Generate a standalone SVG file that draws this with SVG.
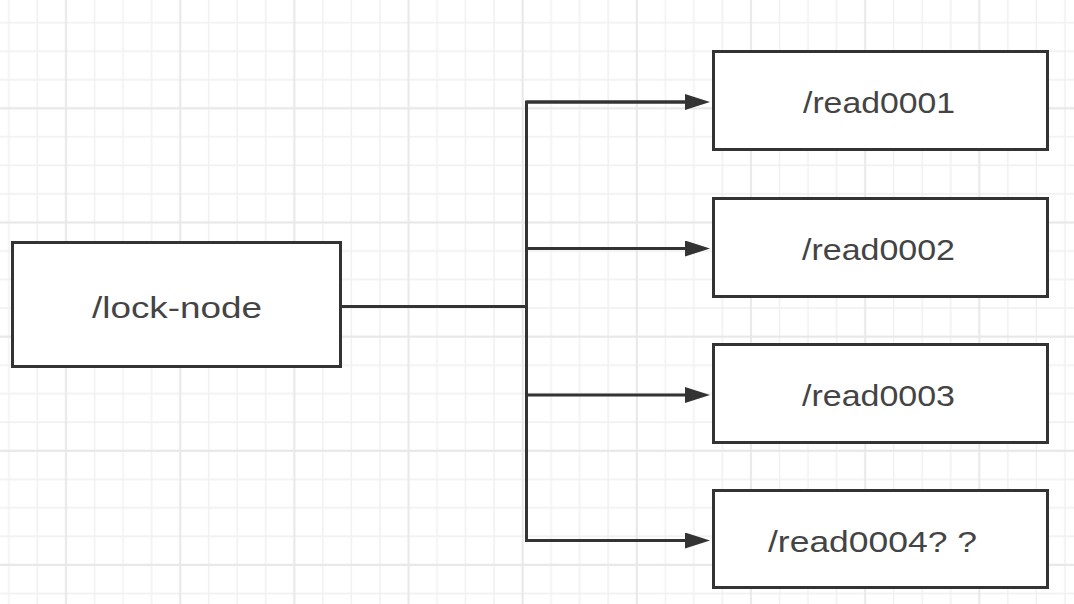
<svg xmlns="http://www.w3.org/2000/svg" width="1074" height="604" viewBox="0 0 1074 604">
  <style>
    .box { fill: #ffffff; stroke: #333333; stroke-width: 3; }
    .lbl { font-family: "Liberation Sans", Arial, Helvetica, sans-serif; font-size: 30px; fill: #444444; }
    .conn { fill: none; stroke: #333333; stroke-width: 3; stroke-linejoin: miter; }
    .minor { stroke: #f1f1f1; stroke-width: 1.6; }
    .major { stroke: #e8e8e8; stroke-width: 2; }
  </style>
  <defs>
    <pattern id="grid" patternUnits="userSpaceOnUse" x="-5.35" y="36.95" width="114.16" height="114.16">
      <line class="minor" x1="14.27" y1="0" x2="14.27" y2="114.16"/>
      <line class="minor" x1="42.81" y1="0" x2="42.81" y2="114.16"/>
      <line class="minor" x1="99.89" y1="0" x2="99.89" y2="114.16"/>
      <line class="minor" x1="0" y1="14.27" x2="114.16" y2="14.27"/>
      <line class="minor" x1="0" y1="42.81" x2="114.16" y2="42.81"/>
      <line class="minor" x1="0" y1="99.89" x2="114.16" y2="99.89"/>
      <line class="major" x1="71.35" y1="0" x2="71.35" y2="114.16"/>
      <line class="major" x1="0" y1="71.35" x2="114.16" y2="71.35"/>
    </pattern>
    <marker id="arrow" markerUnits="userSpaceOnUse" markerWidth="26" markerHeight="18" refX="15" refY="8" orient="auto">
      <path d="M0,0 L25,8 L0,16 Z" fill="#333333"/>
    </marker>
  </defs>
  <rect x="0" y="0" width="1074" height="604" fill="#ffffff"/>
  <rect x="0" y="0" width="1074" height="604" fill="url(#grid)"/>

  <g id="connectors">
    <path class="conn" d="M341,306.5 H526.5"/>
    <path class="conn" d="M700,102 H526.5 V540.5 H700" marker-end="url(#arrow)"/>
    <path class="conn" d="M526.5,102 H700" marker-end="url(#arrow)"/>
    <path class="conn" d="M526.5,248.5 H700" marker-end="url(#arrow)"/>
    <path class="conn" d="M526.5,395 H700" marker-end="url(#arrow)"/>
  </g>

  <g id="lock-node">
    <rect class="box" x="12.5" y="242.5" width="328" height="124"/>
    <text class="lbl" x="92" y="318" textLength="170" lengthAdjust="spacingAndGlyphs">/lock-node</text>
  </g>
  <g id="read0001">
    <rect class="box" x="713.5" y="51.5" width="334" height="98"/>
    <text class="lbl" x="803" y="113" textLength="152" lengthAdjust="spacingAndGlyphs">/read0001</text>
  </g>
  <g id="read0002">
    <rect class="box" x="713.5" y="198.5" width="334" height="98"/>
    <text class="lbl" x="802" y="260" textLength="153" lengthAdjust="spacingAndGlyphs">/read0002</text>
  </g>
  <g id="read0003">
    <rect class="box" x="713.5" y="344.5" width="334" height="98"/>
    <text class="lbl" x="802" y="406" textLength="153" lengthAdjust="spacingAndGlyphs">/read0003</text>
  </g>
  <g id="read0004">
    <rect class="box" x="713.5" y="490.5" width="334" height="97"/>
    <text class="lbl" x="768" y="551.5" textLength="209" lengthAdjust="spacingAndGlyphs">/read0004? ?</text>
  </g>
</svg>
